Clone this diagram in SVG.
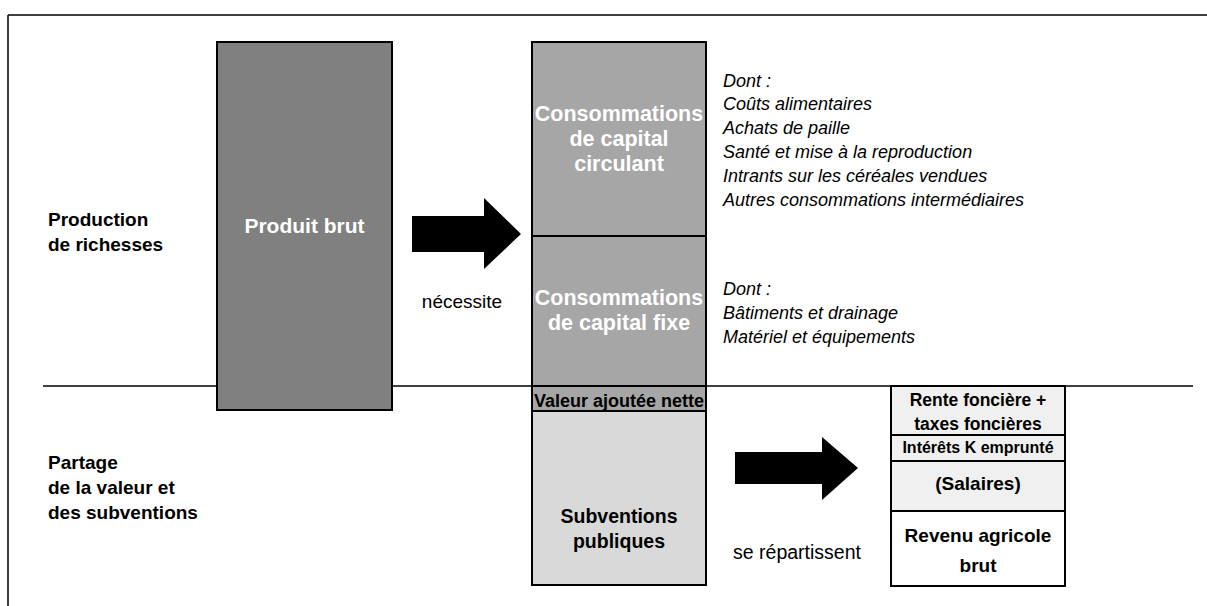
<svg xmlns="http://www.w3.org/2000/svg" width="1207" height="606" viewBox="0 0 1207 606">
<style>
  text { font-family: "Liberation Sans", Arial, sans-serif; }
  .box { stroke: #000; stroke-width: 2; }
  .b { font-weight: bold; }
  .w { fill: #fff; }
  .k { fill: #000; }
  .it { font-style: italic; font-size: 18px; fill: #000; }
  .c { text-anchor: middle; }
  .arrow { fill: #000; }
</style>
<rect width="1207" height="606" fill="#fff"/>
<g id="frame">
  <path d="M8 15 H1207 M8 15 V606" fill="none" stroke="#000" stroke-width="1.5"/>
  <line x1="43" y1="386" x2="1193" y2="386" stroke="#000" stroke-width="1.5"/>
</g>
<g id="labels">
  <text class="b k" font-size="19" x="48" y="226">Production</text>
  <text class="b k" font-size="19" x="48" y="251">de richesses</text>
  <text class="b k" font-size="19" x="48" y="469">Partage</text>
  <text class="b k" font-size="19" x="48" y="494">de la valeur et</text>
  <text class="b k" font-size="19" x="48" y="519">des subventions</text>
</g>
<g id="produit-brut">
  <rect class="box" x="217" y="42" width="175" height="368" fill="#808080"/>
  <text class="b w c" font-size="21" x="304.5" y="233">Produit brut</text>
</g>
<g id="conso-circulant">
  <rect class="box" x="532" y="42" width="174" height="194" fill="#a6a6a6"/>
  <text class="b w c" font-size="21.5" x="619" y="121">Consommations</text>
  <text class="b w c" font-size="21.5" x="619" y="146">de capital</text>
  <text class="b w c" font-size="21.5" x="619" y="171">circulant</text>
</g>
<g id="conso-fixe">
  <rect class="box" x="532" y="236" width="174" height="150" fill="#a6a6a6"/>
  <text class="b w c" font-size="21.5" x="619" y="305">Consommations</text>
  <text class="b w c" font-size="21.5" x="619" y="330">de capital fixe</text>
</g>
<g id="valeur-ajoutee">
  <rect class="box" x="532" y="386" width="174" height="25" fill="#a6a6a6"/>
  <text class="b k c" font-size="18" x="619" y="407">Valeur ajoutée nette</text>
</g>
<g id="subventions">
  <rect class="box" x="532" y="411" width="174" height="174" fill="#d9d9d9"/>
  <text class="b k c" font-size="19.5" x="619" y="523">Subventions</text>
  <text class="b k c" font-size="19.5" x="619" y="548">publiques</text>
</g>
<g id="detail-circulant">
  <text class="it" x="723" y="87">Dont :</text>
  <text class="it" x="723" y="110">Coûts alimentaires</text>
  <text class="it" x="723" y="134">Achats de paille</text>
  <text class="it" x="723" y="158">Santé et mise à la reproduction</text>
  <text class="it" x="723" y="182">Intrants sur les céréales vendues</text>
  <text class="it" x="723" y="206">Autres consommations intermédiaires</text>
</g>
<g id="detail-fixe">
  <text class="it" x="723" y="295">Dont :</text>
  <text class="it" x="723" y="319">Bâtiments et drainage</text>
  <text class="it" x="723" y="343">Matériel et équipements</text>
</g>
<g id="rente">
  <rect class="box" x="891" y="386" width="174" height="49" fill="#f0f0f0"/>
  <text class="b k c" font-size="17.5" x="978" y="406">Rente foncière +</text>
  <text class="b k c" font-size="17.5" x="978" y="430">taxes foncières</text>
</g>
<g id="interets">
  <rect class="box" x="891" y="435" width="174" height="26" fill="#f0f0f0"/>
  <text class="b k c" font-size="16" x="978" y="453">Intérêts K emprunté</text>
</g>
<g id="salaires">
  <rect class="box" x="891" y="461" width="174" height="50" fill="#f0f0f0"/>
  <text class="b k c" font-size="19" x="978" y="490">(Salaires)</text>
</g>
<g id="revenu">
  <rect class="box" x="891" y="511" width="174" height="75" fill="#fff"/>
  <text class="b k c" font-size="19" x="978" y="542">Revenu agricole</text>
  <text class="b k c" font-size="19" x="978" y="572">brut</text>
</g>
<g id="connectors">
  <polygon class="arrow" points="412,216 484,216 484,198 521,234 484,269 484,252 412,252"/>
  <text class="k c" font-size="19" x="462" y="308">nécessite</text>
  <polygon class="arrow" points="735,452 822,452 822,437 858,468 822,500 822,484 735,484"/>
  <text class="k c" font-size="19.5" x="797" y="559">se répartissent</text>
</g>
</svg>
